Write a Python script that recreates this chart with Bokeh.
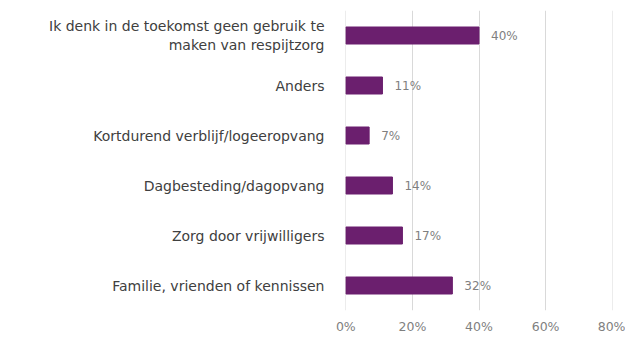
from bokeh.plotting import figure
from bokeh.models import ColumnDataSource, FixedTicker, LabelSet
from bokeh.core.properties import value
from bokeh.embed import file_html
from bokeh.resources import INLINE

categories = [
    "Ik denk in de toekomst geen gebruik te\nmaken van respijtzorg",
    "Anders",
    "Kortdurend verblijf/logeeropvang",
    "Dagbesteding/dagopvang",
    "Zorg door vrijwilligers",
    "Familie, vrienden of kennissen",
]
values = [40, 11, 7, 14, 17, 32]
value_labels = ["40%", "11%", "7%", "14%", "17%", "32%"]
x_ticks = [0, 20, 40, 60, 80]
x_tick_labels = ["0%", "20%", "40%", "60%", "80%"]

source = ColumnDataSource(dict(cat=categories, val=values, lab=value_labels))

p = figure(
    width=625, height=340,
    y_range=list(reversed(categories)),
    x_range=(-0.1, 80.1),
    output_backend="svg",
    toolbar_location=None,
    min_border_left=345, min_border_right=13, min_border_top=10, min_border_bottom=30,
)
p.outline_line_color = None
p.background_fill_color = "white"

p.hbar(y="cat", right="val", left=0, height=0.34, source=source,
       fill_color="#6b1f6e", line_color="#6b1f6e")

labels = LabelSet(x="val", y="cat", text="lab", source=source,
                  x_offset=12, y_offset=0, text_baseline="middle",
                  text_font_size=value("12px"), text_color=value("#7f7f7f"),
                  text_font=value("DejaVu Sans"))
p.add_layout(labels)

p.xaxis.ticker = FixedTicker(ticks=x_ticks)
p.xaxis.major_label_overrides = {t: l for t, l in zip(x_ticks, x_tick_labels)}
p.xaxis.axis_line_color = None
p.xaxis.major_tick_line_color = None
p.xaxis.minor_tick_line_color = None
p.xaxis.major_label_text_font = "DejaVu Sans"
p.xaxis.major_label_text_font_size = "12.5px"
p.xaxis.major_label_text_color = "#7f7f7f"
p.xaxis.major_label_standoff = 2

p.yaxis.axis_line_color = None
p.yaxis.major_tick_line_color = None
p.yaxis.minor_tick_line_color = None
p.yaxis.major_label_text_font = "DejaVu Sans"
p.yaxis.major_label_text_font_size = "14px"
p.yaxis.major_label_text_color = "#404040"
p.yaxis.major_label_standoff = 15

p.ygrid.grid_line_color = None
p.xgrid.ticker = FixedTicker(ticks=x_ticks)
p.xgrid.grid_line_color = "#d9d9d9"
p.xgrid.grid_line_width = 1

open("out.html", "w").write(file_html(p, INLINE))
